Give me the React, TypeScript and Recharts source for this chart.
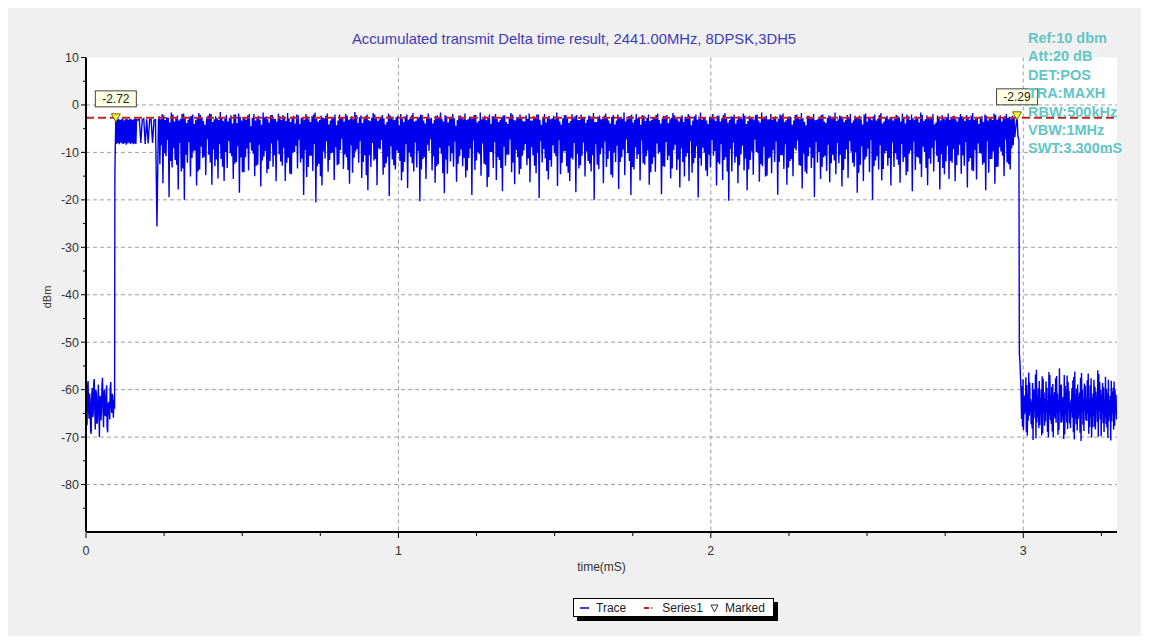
import React from 'react';
import { ComposedChart, Line, Scatter, XAxis, YAxis, CartesianGrid } from 'recharts';

// ---------- data ----------
const leadNoise = [-61.0,-66.2,-67.5,-59.4,-58.2,-64.3,-66.1,-60.8,-62.4,-68.7,-69.3,-61.7,-59.6,-65.8,-65.0,-58.6,-57.8,-63.9,-68.4,-60.1,-60.7,-67.2,-66.8,-62.5,-58.9,-64.6,-70.0,-61.3,-61.9,-66.5,-64.7,-59.0,-57.5,-63.2,-67.9,-60.4,-60.2,-65.3,-65.6,-61.8,-59.1,-68.0,-69.0,-62.9,-62.8,-64.0,-66.3,-59.7,-58.4,-63.6,-64.9,-60.9,-61.5,-65.9,-63.0,-62.2];
const LEAD_STEP = 0.00165;
const riseEdge: [number, number][] = [[0.0915, -64], [0.0925, -14.2], [0.094, -8.3], [0.0955, -2.72]];
const plateauDense = [-8.2,-3.1,-8.0,-2.9,-8.3,-3.2,-7.9,-3.0,-8.1,-2.8,-8.2,-3.3,-8.0,-3.0,-8.4,-2.9,-8.1,-3.1,-7.9,-3.0,-8.2,-2.9,-8.0,-3.2,-8.3,-3.0,-8.1,-2.8,-8.2,-3.1];
const PLATEAU_DENSE_START = 0.098;
const PLATEAU_DENSE_STEP = 0.0022;
const plateauSparse = [-3.2,-3.0,-8.0,-3.1,-2.9,-8.2,-3.0,-8.1,-3.1,-3.0,-8.0,-3.2,-3.1,-25.6,-3.4];
const PLATEAU_SPARSE_START = 0.166;
const PLATEAU_SPARSE_STEP = 0.0047;

// burst: each pair slot holds highA, lowA (deep spikes), highB, lowB (shallower)
const burstHighsA = [
  -2.4,-1.9,-3.2,-2.7,-1.6,-3.5,-2.2,-2.9,-1.8,-3.8,-2.5,-2.0,-3.1,-1.7,-2.6,-4.2,-2.3,-1.9,-3.0,-2.8,
  -1.5,-3.4,-2.1,-2.7,-3.9,-2.0,-1.8,-3.3,-2.6,-2.2,-4.5,-1.9,-2.8,-3.1,-1.6,-2.4,-3.7,-2.1,-2.9,-1.8,
  -3.2,-2.5,-1.7,-3.6,-2.3,-2.0,-4.0,-2.7,-1.9,-3.0,-2.4,-1.6,-3.5,-2.2,-2.8,-1.8,-3.3,-2.6,-4.3,-2.0,
  -2.7,-1.9,-3.1,-2.4,-1.5,-3.8,-2.2,-2.9,-2.0,-3.4,-1.7,-2.6,-3.0,-2.1,-4.1,-1.8,-2.5,-3.2,-2.3,-1.9,
  -3.6,-2.0,-2.8,-1.7,-3.3,-2.5,-2.1,-3.9,-1.8,-2.7,-3.1,-2.2,-1.6,-3.5,-2.4,-2.9,-1.9,-4.4,-2.3,-2.6,
  -1.8,-3.0,-2.5,-2.1,-3.7,-1.6,-2.8,-3.2,-2.0,-2.4,-1.9,-3.6,-2.6,-2.2,-4.0,-1.7,-3.1,-2.5,-2.0,-3.4,
  -2.2,-1.8,-3.3,-2.7,-2.0,-4.2,-1.9,-2.6,-3.0,-2.3,-1.6,-3.5,-2.8,-2.1,-3.8,-1.9,-2.4,-3.2,-2.0,-2.7,
  -3.1,-2.4,-1.7,-3.6,-2.2,-2.9,-1.8,-3.3,-2.5,-4.1,-2.0,-2.7,-1.6,-3.0,-2.3,-3.7,-1.9,-2.6,-2.1,-3.4,
  -2.0,-3.2,-2.6,-1.8,-3.9,-2.3,-2.1,-3.0,-1.7,-2.8,-3.5,-2.2,-2.5,-1.9,-4.3,-2.4,-3.1,-1.6,-2.7,-3.3,
  -2.5,-1.9,-3.4,-2.2,-2.8,-1.7,-3.7,-2.4,-2.0,-3.1,-2.6,-1.8,-4.0,-2.3,-2.9,-2.1,-3.3,-1.6,-2.5,-3.0,
  -1.9,-2.7,-3.5,-2.0,-1.8,-3.2,-2.4,-4.2,-2.1,-2.6,-1.7,-3.6,-2.3,-2.9,-1.9,-3.1,-2.5,-2.0,-3.8,-2.2,
  -2.8,-1.6,-3.0,-2.4,-3.6,-2.1,-1.9,-3.3,-2.7,-2.2,-4.1,-1.8,-2.5,-3.2,-2.0,-2.9,-1.7,-3.5,-2.3,-2.6,
  -3.3,-2.1,-2.6,-1.8,-3.9,-2.4,-2.0,-3.1,-2.7,-1.6,-3.4,-2.2,-2.8,-1.9,-3.7,-2.5,-2.1,-3.0,-1.8,-2.6,
  -2.3,-3.5,-1.9,-2.7,-2.1,-3.2,-1.7,-2.9,-4.0,-2.4,-2.0,-3.3,-2.6,-1.8,-3.1,-2.2,-2.8,-1.9,-2.5,-2.3,
];
const burstLowsA = [
  -12.5,-16.5,-10.8,-19.4,-13.2,-11.6,-17.8,-14.0,-20.0,-12.2,-15.1,-9.8,-17.0,-13.6,-11.2,-14.8,-10.5,-16.8,-12.9,-15.5,
  -11.4,-16.0,-13.3,-10.2,-15.6,-12.0,-18.5,-14.2,-11.0,-13.8,-9.6,-15.0,-12.6,-17.2,-10.9,-14.4,-11.8,-13.0,-16.1,-10.4,
  -12.8,-16.0,-11.1,-14.6,-9.9,-13.4,-12.1,-19.0,-15.2,-10.7,-13.9,-20.5,-12.4,-17.0,-11.3,-14.1,-10.2,-15.8,-12.7,-9.5,
  -13.5,-11.0,-16.6,-14.3,-9.8,-12.2,-15.4,-10.6,-18.0,-13.1,-11.7,-16.9,-9.4,-14.7,-12.3,-19.2,-11.5,-13.6,-10.1,-15.9,
  -12.0,-17.5,-10.9,-14.0,-13.2,-20.3,-11.4,-15.6,-9.7,-13.8,-16.4,-12.5,-10.3,-18.6,-14.5,-11.9,-13.0,-16.2,-10.8,-12.9,
  -15.3,-11.2,-19.0,-13.7,-10.0,-14.9,-12.4,-17.3,-9.9,-13.3,-15.8,-11.6,-18.2,-12.8,-10.5,-14.2,-16.7,-11.0,-13.5,-9.6,
  -12.7,-16.3,-10.6,-14.4,-19.6,-12.1,-11.3,-15.7,-13.0,-10.2,-17.1,-14.6,-9.8,-12.9,-16.0,-11.5,-18.4,-13.4,-10.7,-15.1,
  -11.8,-14.0,-20.0,-12.6,-10.4,-16.5,-13.1,-9.7,-15.3,-12.0,-17.7,-11.0,-14.8,-10.1,-19.0,-13.6,-11.4,-15.9,-12.3,-10.8,
  -16.8,-12.4,-14.1,-10.3,-18.8,-13.0,-11.6,-15.5,-9.5,-13.7,-17.4,-12.0,-10.9,-16.0,-14.3,-11.2,-19.5,-12.8,-10.0,-15.0,
  -13.2,-10.7,-17.0,-12.5,-15.8,-11.0,-20.2,-14.0,-12.2,-16.5,-10.4,-13.8,-18.0,-11.6,-14.7,-9.9,-16.2,-12.9,-15.1,-11.3,
  -14.4,-12.0,-18.9,-10.6,-13.5,-16.8,-11.8,-15.0,-9.6,-12.7,-17.6,-14.1,-10.8,-13.3,-19.4,-12.1,-15.6,-11.0,-13.9,-16.3,
  -10.5,-14.6,-12.3,-17.2,-11.4,-15.4,-9.8,-13.0,-18.5,-12.6,-16.0,-10.9,-14.2,-20.0,-11.7,-13.6,-15.9,-10.2,-12.8,-17.0,
  -13.1,-11.5,-16.4,-12.0,-14.8,-10.3,-18.2,-13.7,-11.1,-15.2,-9.9,-16.9,-12.4,-14.0,-10.7,-17.8,-13.3,-11.9,-15.6,-12.2,
  -16.1,-10.6,-14.5,-12.8,-17.4,-11.2,-13.9,-15.7,-10.1,-12.6,-18.0,-14.3,-11.4,-16.6,-13.0,-9.8,-15.0,-12.1,-13.6,-8.5,
];
const burstHighsB = [
  -3.0,-2.2,-2.6,-3.7,-2.0,-2.8,-3.3,-1.9,-2.5,-3.1,-2.3,-4.0,-2.7,-2.1,-3.4,-2.9,-1.8,-3.6,-2.4,-3.2,
  -2.6,-2.9,-3.5,-2.2,-2.0,-3.8,-2.5,-2.8,-3.1,-1.9,-2.7,-3.3,-2.3,-4.2,-2.6,-3.0,-2.1,-2.9,-3.5,-2.4,
  -2.1,-3.4,-2.8,-2.5,-3.9,-2.2,-2.7,-3.1,-2.4,-3.6,-2.0,-2.9,-3.2,-2.6,-2.3,-4.1,-2.8,-2.0,-3.3,-2.7,
  -3.5,-2.3,-2.9,-3.0,-2.1,-2.6,-3.8,-2.4,-3.2,-2.7,-2.0,-3.4,-2.5,-2.8,-3.6,-2.2,-3.0,-2.6,-4.3,-2.9,
  -2.4,-3.1,-2.2,-3.5,-2.8,-2.0,-3.3,-2.6,-2.9,-3.9,-2.3,-2.7,-3.0,-2.1,-3.7,-2.5,-2.8,-3.2,-2.2,-3.0,
  -3.2,-2.5,-2.8,-2.1,-3.4,-3.0,-2.3,-2.7,-4.0,-2.4,-2.9,-3.1,-2.2,-3.6,-2.6,-2.0,-3.3,-2.8,-2.5,-3.5,
  -2.9,-3.3,-2.4,-2.0,-3.1,-2.6,-3.7,-2.3,-2.8,-3.0,-2.5,-4.1,-2.2,-2.7,-3.4,-2.9,-2.1,-3.2,-2.6,-3.8,
  -2.2,-2.8,-3.6,-2.5,-3.0,-2.3,-2.7,-3.9,-2.1,-3.3,-2.6,-2.9,-3.5,-2.4,-2.0,-3.1,-2.8,-4.2,-2.3,-2.7,
  -3.4,-2.6,-2.1,-3.2,-2.9,-2.4,-3.8,-2.7,-2.2,-3.0,-2.5,-3.6,-2.8,-2.3,-3.3,-2.0,-2.9,-3.1,-2.6,-4.0,
  -2.7,-3.0,-2.3,-3.5,-2.1,-2.8,-3.2,-2.5,-3.9,-2.4,-2.9,-2.2,-3.4,-2.6,-3.1,-2.0,-3.7,-2.8,-2.3,-3.0,
  -3.1,-2.4,-2.9,-2.2,-3.6,-2.7,-2.5,-3.3,-2.0,-3.0,-2.8,-4.3,-2.3,-2.6,-3.2,-2.9,-2.1,-3.5,-2.7,-2.4,
  -2.5,-3.4,-2.2,-2.9,-3.1,-2.6,-3.8,-2.3,-2.7,-3.0,-2.0,-3.5,-2.8,-2.4,-3.3,-2.1,-3.9,-2.6,-3.0,-2.8,
  -2.9,-2.3,-3.5,-2.6,-2.0,-3.2,-2.8,-2.4,-3.7,-2.1,-3.0,-2.7,-2.5,-4.1,-2.2,-3.3,-2.9,-2.6,-3.1,-2.4,
  -3.0,-2.6,-2.4,-3.4,-2.8,-2.2,-3.1,-2.7,-2.5,-3.6,-2.3,-2.9,-3.2,-2.1,-2.8,-3.5,-2.4,-2.7,-3.0,-2.5,
];
const burstLowsB = [
  -8.5,-10.2,-7.4,-11.8,-9.1,-12.6,-8.0,-13.4,-10.5,-7.8,-11.2,-9.6,-14.0,-8.8,-10.9,-7.2,-12.1,-9.4,-11.5,-8.3,
  -13.0,-9.9,-7.6,-10.8,-12.4,-8.7,-11.0,-14.2,-9.2,-7.9,-10.3,-12.8,-8.4,-11.7,-9.7,-13.5,-8.1,-10.6,-7.5,-11.9,
  -9.0,-12.2,-14.5,-10.1,-8.6,-7.3,-11.3,-9.5,-13.1,-10.7,-8.2,-12.9,-15.0,-9.8,-7.7,-11.6,-10.0,-8.9,-12.5,-7.1,
  -10.4,-13.7,-8.5,-11.1,-9.3,-7.6,-12.0,-14.8,-10.6,-8.0,-11.4,-9.1,-7.4,-13.2,-10.9,-8.7,-12.7,-9.6,-11.8,-14.1,
  -8.3,-10.0,-12.3,-7.9,-9.7,-13.6,-11.0,-8.4,-7.2,-10.8,-12.9,-9.0,-14.4,-11.5,-8.6,-10.2,-7.7,-12.4,-9.4,-11.2,
  -13.8,-9.2,-7.5,-11.7,-10.4,-8.1,-12.6,-15.2,-9.9,-7.8,-11.0,-13.3,-8.8,-10.5,-7.3,-12.1,-9.5,-14.6,-10.7,-8.2,
  -11.3,-8.9,-12.8,-10.1,-7.6,-9.3,-13.9,-11.6,-8.5,-10.8,-7.4,-12.2,-9.7,-14.3,-11.1,-8.0,-10.3,-12.7,-7.9,-9.8,
  -12.4,-10.6,-8.3,-13.5,-9.1,-7.7,-11.4,-14.7,-10.0,-8.6,-12.0,-9.4,-7.2,-11.8,-13.1,-8.9,-10.4,-7.5,-12.6,-9.6,
  -14.2,-11.0,-8.1,-9.9,-12.9,-7.8,-10.7,-13.4,-8.4,-11.5,-9.2,-15.1,-10.2,-7.6,-12.3,-8.7,-11.2,-9.0,-13.8,-10.5,
  -7.4,-9.7,-12.1,-8.2,-11.6,-14.0,-9.3,-7.9,-10.9,-12.7,-8.6,-11.3,-13.6,-9.8,-7.3,-10.1,-12.5,-8.8,-14.9,-11.0,
  -9.5,-7.7,-12.0,-10.6,-8.3,-13.2,-11.4,-9.1,-7.5,-12.8,-10.3,-14.5,-8.9,-11.1,-7.8,-9.9,-13.0,-10.7,-8.4,-12.3,
  -11.7,-8.0,-10.5,-13.7,-9.4,-7.6,-12.2,-10.0,-14.3,-8.7,-11.5,-9.2,-7.4,-12.9,-10.8,-8.5,-13.5,-9.7,-11.2,-7.9,
  -10.2,-12.6,-8.2,-11.0,-14.1,-9.6,-7.7,-10.9,-12.4,-8.8,-13.3,-11.3,-9.0,-7.5,-12.0,-10.4,-14.6,-8.6,-11.8,-9.3,
  -12.7,-8.4,-10.6,-7.8,-11.9,-13.8,-9.5,-8.1,-10.3,-12.2,-7.6,-11.4,-9.8,-13.1,-8.9,-10.7,-7.3,-12.5,-9.1,-6.8,
];
const BURST_START = 0.234;
const BURST_PAIR = 0.00979;
const fallEdge: [number, number][] = [[2.98, -2.29], [2.983, -6.6], [2.986, -7.3], [2.9875, -52.3], [2.9895, -54.5]];

// tail noise floor: each slot holds highA, lowA, highB, lowB
const tailHighsA = [-60.5,-57.8,-61.2,-59.0,-56.4,-62.0,-58.6,-60.1,-55.8,-59.7,-61.8,-57.2,-60.6,-58.3,-62.3,-56.9,-59.4,-61.0,-57.6,-60.8,-55.5,-58.9,-61.5,-59.2,-57.0,-60.3,-62.1,-58.0,-56.2,-59.8,-61.3,-57.5,-60.0,-58.7,-62.4,-56.6,-59.1,-61.7,-57.9,-60.4,-55.9,-58.4,-61.1,-59.5,-57.3,-60.7,-62.2,-58.1,-59.6,-60.2];
const tailLowsA = [-66.2,-68.5,-64.8,-69.7,-65.5,-67.3,-70.6,-64.4,-66.9,-68.1,-65.1,-69.2,-67.6,-64.9,-70.1,-66.4,-68.8,-65.7,-67.0,-69.5,-64.6,-66.8,-70.4,-65.3,-68.3,-67.1,-64.7,-69.0,-66.0,-68.6,-65.4,-70.8,-67.4,-64.5,-66.6,-69.3,-65.9,-68.0,-67.8,-64.3,-69.9,-66.3,-65.0,-68.9,-67.2,-70.2,-65.6,-66.7,-68.4,-65.2];
const tailHighsB = [-59.3,-61.6,-57.4,-60.9,-58.5,-62.6,-59.9,-56.8,-61.4,-58.2,-60.0,-57.7,-62.0,-59.6,-56.3,-61.2,-58.8,-60.5,-57.1,-62.3,-59.0,-61.8,-56.9,-60.2,-58.4,-62.7,-59.7,-57.3,-61.0,-58.9,-60.6,-56.5,-61.9,-59.2,-58.0,-62.1,-57.6,-60.8,-59.4,-61.5,-56.7,-60.1,-58.6,-62.4,-59.8,-57.9,-61.3,-60.4,-58.3,-61.1];
const tailLowsB = [-67.8,-65.2,-69.0,-66.5,-64.6,-68.2,-66.0,-70.3,-65.8,-67.5,-69.6,-64.9,-66.7,-68.9,-65.4,-67.2,-70.0,-66.1,-64.8,-68.5,-67.0,-65.6,-69.4,-66.9,-64.4,-68.1,-65.9,-70.5,-67.3,-66.2,-69.1,-64.7,-68.7,-66.4,-65.1,-67.9,-70.1,-65.5,-68.4,-66.8,-64.5,-69.8,-67.1,-65.7,-68.0,-66.6,-70.7,-65.0,-67.6,-66.3];
const TAIL_START = 2.993;
const TAIL_PAIR = 0.00614;

const series1Level = -2.72;
const markers = [
  { t: 0.0955, v: -2.72, label: '-2.72' },
  { t: 2.98, v: -2.29, label: '-2.29' },
];

const yTicks = [10, 5, 0, -5, -10, -15, -20, -25, -30, -35, -40, -45, -50, -55, -60, -65, -70, -75, -80, -85];
const xTicks = [0, 0.25, 0.5, 0.75, 1, 1.25, 1.5, 1.75, 2, 2.25, 2.5, 2.75, 3, 3.25];
const gridY = [0, -10, -20, -30, -40, -50, -60, -70, -80];
const gridX = [1, 2, 3];
const infoLines = ['Ref:10 dbm', 'Att:20 dB', 'DET:POS', 'TRA:MAXH', 'RBW:500kHz', 'VBW:1MHz', 'SWT:3.300mS'];
const titleText = 'Accumulated transmit Delta time result, 2441.00MHz, 8DPSK,3DH5';

// ---------- build series ----------
const trace: { t: number; v: number }[] = [];
leadNoise.forEach((v, i) => trace.push({ t: i * LEAD_STEP, v }));
riseEdge.forEach(([t, v]) => trace.push({ t, v }));
plateauDense.forEach((v, i) => trace.push({ t: PLATEAU_DENSE_START + i * PLATEAU_DENSE_STEP, v }));
plateauSparse.forEach((v, i) => trace.push({ t: PLATEAU_SPARSE_START + i * PLATEAU_SPARSE_STEP, v }));
const nb = Math.min(burstHighsA.length, burstLowsA.length, burstHighsB.length, burstLowsB.length);
for (let i = 0; i < nb; i++) {
  const t0 = BURST_START + i * BURST_PAIR;
  trace.push({ t: t0, v: burstHighsA[i] });
  trace.push({ t: t0 + BURST_PAIR * 0.25, v: burstLowsA[i] });
  trace.push({ t: t0 + BURST_PAIR * 0.5, v: burstHighsB[i] });
  trace.push({ t: t0 + BURST_PAIR * 0.75, v: burstLowsB[i] });
}
fallEdge.forEach(([t, v]) => trace.push({ t, v }));
const nt = Math.min(tailHighsA.length, tailLowsA.length, tailHighsB.length, tailLowsB.length);
for (let i = 0; i < nt; i++) {
  const t0 = TAIL_START + i * TAIL_PAIR;
  trace.push({ t: t0, v: tailHighsA[i] });
  trace.push({ t: t0 + TAIL_PAIR * 0.25, v: tailLowsA[i] });
  trace.push({ t: t0 + TAIL_PAIR * 0.5, v: tailHighsB[i] });
  trace.push({ t: t0 + TAIL_PAIR * 0.75, v: tailLowsB[i] });
}
const series1 = [{ t: 0, v: series1Level }, { t: 3.3, v: series1Level }];

const FONT = '"Liberation Sans", Arial, sans-serif';

const YTick = (props: any) => {
  const { x, y, payload } = props;
  const val = payload.value;
  const major = val % 10 === 0;
  return (
    <g>
      <line x1={x - (major ? 5 : 3)} x2={x} y1={y} y2={y} stroke="#000" strokeWidth={1} />
      {major && (
        <text x={x - 7} y={y} dy={4.5} textAnchor="end" fontSize={12.5} fontFamily={FONT} fill="#333">
          {val}
        </text>
      )}
    </g>
  );
};

const XTick = (props: any) => {
  const { x, y, payload } = props;
  const val = payload.value;
  const major = Number.isInteger(val);
  return (
    <g>
      <line x1={x} x2={x} y1={y + 1} y2={y + (major ? 6 : 4)} stroke="#000" strokeWidth={1} />
      {major && (
        <text x={x} y={y + 23} textAnchor="middle" fontSize={12.5} fontFamily={FONT} fill="#333">
          {val}
        </text>
      )}
    </g>
  );
};

const MarkerShape = (props: any) => {
  const { cx, cy } = props;
  const label = props.payload?.label ?? props.label;
  return (
    <g>
      <rect x={cx - 20.5} y={cy - 27} width={41} height={16} fill="#ffffe1" stroke="#444" strokeWidth={1} />
      <text x={cx} y={cy - 14.5} textAnchor="middle" fontSize={12} fontFamily={FONT} fill="#222">
        {label}
      </text>
      <polygon points={`${cx - 4.5},${cy - 4} ${cx + 4.5},${cy - 4} ${cx},${cy + 4}`} fill="#f6f640" stroke="#6b6b00" strokeWidth={1} />
    </g>
  );
};

export default function App() {
  return (
    <div style={{ position: 'relative', left: -1, top: -2, width: 1134, height: 630, background: '#f0f0f0', fontFamily: FONT }}>
      <ComposedChart width={1134} height={630} margin={{ top: 51.5, right: 24, left: 19, bottom: 74 }}>
        <CartesianGrid
          fill="#ffffff"
          stroke="#a0a0a0"
          strokeDasharray="4 3"
          horizontalValues={gridY}
          verticalValues={gridX}
        />
        <XAxis
          type="number"
          dataKey="t"
          domain={[0, 3.3]}
          ticks={xTicks}
          interval={0}
          allowDataOverflow
          height={30}
          tickSize={0}
          tickMargin={0}
          tickLine={false}
          tick={<XTick />}
          axisLine={{ stroke: '#000', strokeWidth: 2 }}
        />
        <YAxis
          type="number"
          dataKey="v"
          domain={[-90, 10]}
          ticks={yTicks}
          interval={0}
          allowDataOverflow
          width={60}
          tickSize={0}
          tickMargin={0}
          tickLine={false}
          tick={<YTick />}
          axisLine={{ stroke: '#000', strokeWidth: 2 }}
        />
        <Line data={trace} dataKey="v" type="linear" stroke="#0000ee" strokeWidth={1.4} dot={false} isAnimationActive={false} />
        <Line data={series1} dataKey="v" type="linear" stroke="#c42020" strokeWidth={2} strokeDasharray="8 4" dot={false} isAnimationActive={false} />
        <Scatter data={markers} dataKey="v" shape={<MarkerShape />} isAnimationActive={false} />
      </ComposedChart>

      <div style={{ position: 'absolute', left: 0, width: 1134, top: 25, textAlign: 'center', fontSize: 14.8, color: '#3c3cb4', whiteSpace: 'nowrap' }}>
        {titleText}
      </div>

      <div style={{ position: 'absolute', left: 1021, top: 23, fontSize: 14.5, fontWeight: 'bold', color: '#62c6c6', lineHeight: '18.4px', whiteSpace: 'nowrap' }}>
        {infoLines.map((l) => (
          <div key={l}>{l}</div>
        ))}
      </div>

      <div style={{ position: 'absolute', left: 20, top: 285, width: 40, textAlign: 'center', fontSize: 11, color: '#333', transform: 'rotate(-90deg)' }}>
        dBm
      </div>

      <div style={{ position: 'absolute', left: 79, width: 1031, top: 554, textAlign: 'center', fontSize: 12, color: '#333' }}>
        time(mS)
      </div>

      <div
        style={{
          position: 'absolute', left: 566, top: 592, width: 199, height: 17, border: '1px solid #000', background: '#fff',
          boxShadow: '4px 4px 0 #000', display: 'flex', alignItems: 'center', fontSize: 12, color: '#222', whiteSpace: 'nowrap',
        }}
      >
        <svg width={18} height={10} style={{ marginLeft: 4 }}>
          <line x1={2} x2={11} y1={5} y2={5} stroke="#0000ee" strokeWidth={1.5} />
        </svg>
        <span>Trace</span>
        <svg width={28} height={10} style={{ marginLeft: 8 }}>
          <line x1={10} x2={15} y1={5} y2={5} stroke="#c42020" strokeWidth={2} />
          <line x1={17} x2={19} y1={5} y2={5} stroke="#c42020" strokeWidth={1} />
        </svg>
        <span>Series1</span>
        <svg width={16} height={10} style={{ marginLeft: 4 }}>
          <polygon points="4,2 11,2 7.5,9" fill="#fff" stroke="#333" strokeWidth={1} />
        </svg>
        <span style={{ marginLeft: 2 }}>Marked</span>
      </div>
    </div>
  );
}
